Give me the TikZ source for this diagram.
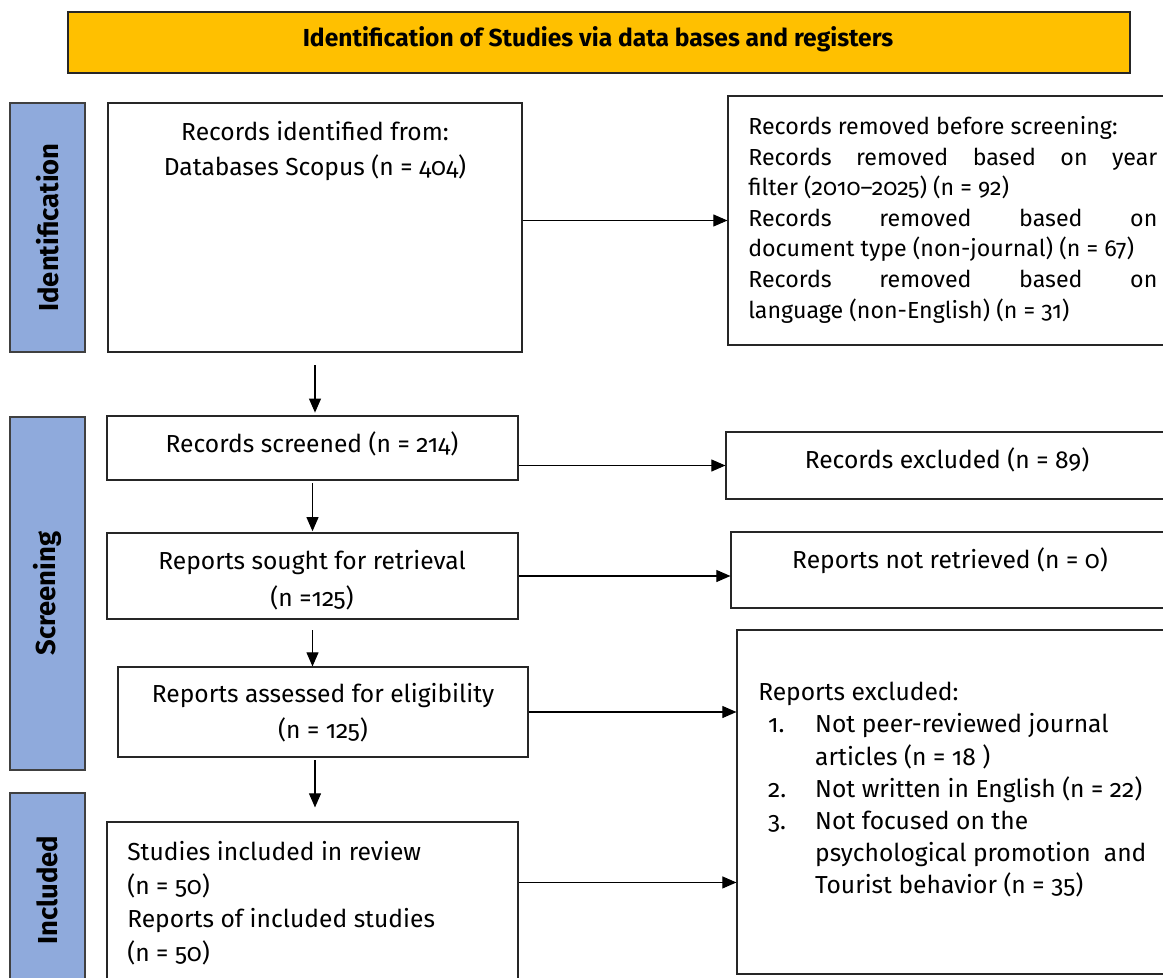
\documentclass[tikz,border=0pt]{standalone}
\usepackage{fontspec}
\setmainfont{Fira Sans}[Numbers={OldStyle,Proportional}]
\usetikzlibrary{arrows.meta,positioning,fit,calc}
\definecolor{titlegold}{RGB}{255,192,0}
\definecolor{phaseblue}{RGB}{143,170,220}
\setlength{\parindent}{0pt}

\begin{document}
\begin{tikzpicture}[x=0.025cm,y=-0.025cm,
    box/.style={draw=black!85,line width=0.8pt,inner sep=0pt},
    phase/.style={draw=black!75,fill=phaseblue,line width=1.2pt,inner sep=0pt},
    phasetxt/.style={rotate=90,font=\fontsize{19.5}{22}\selectfont\bfseries},
    txt/.style={font=\fontsize{17.5}{25}\selectfont,inner sep=0pt,align=center},
    flow/.style={-{Triangle[length=10pt,width=8.5pt]},line width=0.8pt}]
  \clip (0,0) rectangle (1163,978);

  % title bar
  \node[box,fill=titlegold,fit={(68,12)(1130,73)}] (title) {};
  \node[font=\fontsize{17.5}{20}\selectfont\bfseries] at (598,39) {Identification of Studies via data bases and registers};

  % phase bars
  \node[phase,fit={(10,103)(85,352)}] (idphase) {};
  \node[phase,fit={(10,417)(85,770)}] (scrphase) {};
  \node[phase,fit={(10,793)(85,987)}] (incphase) {};
  \node[phasetxt] at (idphase.center) {Identification};
  \node[phasetxt] at (scrphase.center) {Screening};
  \node[phasetxt] at (incphase.center) {Included};

  % main column
  \node[box,fit={(108,103)(522,352)}] (ident) {};
  \node[txt,font=\fontsize{17.5}{25}\selectfont] at (315,151) {Records identified from:\\Databases Scopus (n = 404)};
  \node[box,fit={(107,416)(518,480)}] (screened) {};
  \node[txt] at (312,444) {Records screened (n = 214)};
  \node[box,fit={(107,533)(518,619)}] (sought) {};
  \node[txt,font=\fontsize{17.5}{26}\selectfont] at (312,580) {Reports sought for retrieval\\(n =125)};
  \node[box,fit={(118,667)(528,757)}] (assessed) {};
  \node[txt,font=\fontsize{17.5}{25.5}\selectfont] at (323,713) {Reports assessed for eligibility\\(n = 125)};
  \node[box,fit={(107,822)(518,995)}] (studies) {};
  \node[txt,align=left,anchor=north west,font=\fontsize{17.5}{24}\selectfont] at (127,841)
    {Studies included in review\\(n = 50)\\Reports of included studies\\(n = 50)};

  % side column
  \node[box,fit={(728,96)(1170,345)}] (removed) {};
  \node[txt,align=justify,text width=10.225cm,anchor=north west,font=\fontsize{16.5}{21.8}\selectfont] at (748,116)
    {Records removed before screening:\par
     Records removed based on year\linebreak filter (2010–2025) (n = 92)\par
     Records removed based on\linebreak document type (non-journal) (n = 67)\par
     Records removed based on\linebreak language (non-English) (n = 31)};
  \node[box,fit={(726,432)(1170,499)}] (excluded) {};
  \node[txt] at (947,460) {Records excluded (n = 89)};
  \node[box,fit={(731,532)(1170,608)}] (notret) {};
  \node[txt] at (950,561) {Reports not retrieved (n = 0)};
  \node[box,fit={(737,630)(1170,974)}] (repexcl) {};
  \node[txt,align=left,anchor=north west,font=\fontsize{17.5}{22.9}\selectfont] at (758,682)
    {Reports excluded:\\
     \hspace*{7pt}\makebox[33.5pt][l]{1.}Not peer-reviewed journal\\
     \hspace*{40.5pt}articles (n = 18 )\\
     \hspace*{7pt}\makebox[33.5pt][l]{2.}Not written in English (n = 22)\\
     \hspace*{7pt}\makebox[33.5pt][l]{3.}Not focused on the\\
     \hspace*{40.5pt}psychological promotion\ \ and\\
     \hspace*{40.5pt}Tourist behavior (n = 35)};

  % arrows down
  \draw[flow,shorten <=0.32cm,shorten >=0.07cm] (ident.south) -- (ident.south |- screened.north);
  \draw[flow,shorten <=0.07cm,shorten >=0.03cm] (screened.south) -- (screened.south |- sought.north);
  \draw[flow,shorten <=0.27cm] (sought.south) -- (sought.south |- assessed.north);
  \draw[flow,shorten <=0.07cm,shorten >=0.35cm] (assessed.south -| ident.south) -- (ident.south |- studies.north);

  % arrows across
  \draw[flow] (ident.east |- removed.west) -- (removed.west);
  \draw[flow] (screened.east |- excluded.west) -- (excluded.west);
  \draw[flow] (sought.east) -- (sought.east -| notret.west);
  \draw[flow] (assessed.east) -- (assessed.east -| repexcl.west);
  \draw[flow] ([yshift=-1.525cm]studies.north east) -- ([yshift=-1.525cm]studies.north east -| repexcl.west);
\end{tikzpicture}
\end{document}
